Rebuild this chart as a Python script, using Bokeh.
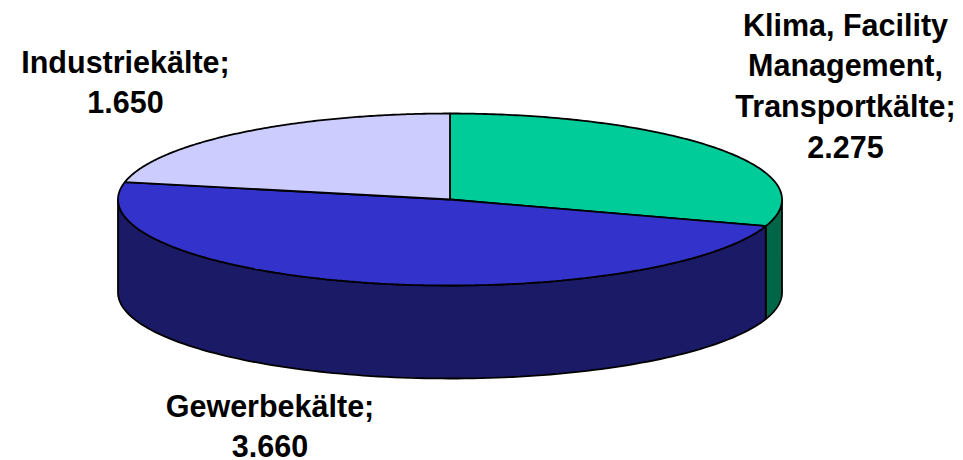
import numpy as np
from bokeh.embed import file_html
from bokeh.models import ColumnDataSource, Range1d
from bokeh.plotting import figure
from bokeh.resources import INLINE
from bokeh.core.properties import value

# Sectors run clockwise from twelve o'clock
categories = ["Klima, Facility\nManagement,\nTransportkälte;", "Gewerbekälte;", "Industriekälte;"]
amounts = [2275, 3660, 1650]
top_colors = ["#00CC99", "#3333CC", "#CCCCFF"]
side_colors = ["#006648", "#1A1A66", "#666680"]

WIDTH, HEIGHT = 963, 460
CX, CY, RX, RY, DEPTH = 449.5, 199.0, 332.0, 86.0, 93.0
# Centre x and first-line y of each label block
LABEL_ANCHORS = [(845, 24), (269.5, 405), (125, 61)]
LINE_STEP = 40.8
FONT_PX = 30.5


def rim(theta):
    """Point on the top ellipse; theta is in degrees clockwise from the top."""
    t = np.radians(theta)
    return CX + RX * np.sin(t), CY - RY * np.cos(t)


p = figure(width=WIDTH, height=HEIGHT, output_backend="svg", toolbar_location=None,
           x_range=Range1d(0, WIDTH), y_range=Range1d(HEIGHT, 0),
           min_border=0, outline_line_color=None, background_fill_color="white")
p.axis.visible = False
p.grid.visible = False

edges = np.concatenate([[0], np.cumsum(amounts) / np.sum(amounts) * 360])

# Cylinder wall: only the part of each sector facing the viewer (90..270 degrees)
for start, stop, color in zip(edges[:-1], edges[1:], side_colors):
    lo, hi = max(start, 90), min(stop, 270)
    if hi <= lo:
        continue
    th = np.linspace(lo, hi, 120)
    x, y = rim(th)
    p.patch(np.r_[x, x[::-1]], np.r_[y, y[::-1] + DEPTH],
            fill_color=color, line_color="black", line_width=1.8)

# Top face
for start, stop, color in zip(edges[:-1], edges[1:], top_colors):
    th = np.linspace(start, stop, 160)
    x, y = rim(th)
    p.patch(np.r_[CX, x], np.r_[CY, y],
            fill_color=color, line_color="black", line_width=1.8)

# Labels, one text per line so the leading stays under control
tx, ty, tt = [], [], []
for name, amount, (ax, ay) in zip(categories, amounts, LABEL_ANCHORS):
    lines = name.split("\n") + [f"{amount:,}".replace(",", ".")]
    for i, line in enumerate(lines):
        tx.append(ax)
        ty.append(ay + i * LINE_STEP)
        tt.append(line)

p.text(x="x", y="y", text="t", source=ColumnDataSource(dict(x=tx, y=ty, t=tt)),
       text_font=value("Liberation Sans"), text_font_style="bold",
       text_font_size=f"{FONT_PX}px", text_color="black",
       text_align="center", text_baseline="alphabetic")

open("out.html", "w").write(file_html(p, INLINE))
